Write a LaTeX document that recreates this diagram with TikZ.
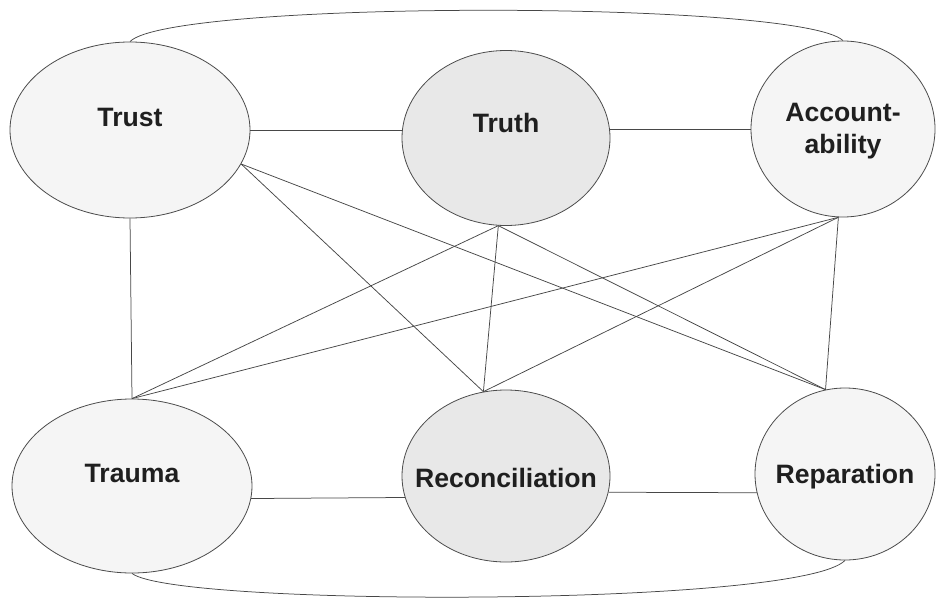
\documentclass[tikz,border=0pt]{standalone}
\usepackage{fontspec}
\setmainfont{Liberation Sans}
\usetikzlibrary{shapes.geometric}
\begin{document}
\begin{tikzpicture}[x=1pt,y=-1pt,
  ell/.style={ellipse, draw=black!70, line width=0.8pt, inner sep=0pt},
  light/.style={fill=black!4},
  dark/.style={fill=black!9},
  lbl/.style={font=\fontsize{26.6}{32}\selectfont\bfseries, text=black!88, align=center, inner sep=0pt},
  conn/.style={draw=black!72, line width=0.75pt}]
\useasboundingbox (0,0) rectangle (936,599);
\node[ell, light, minimum width=240pt, minimum height=176pt, label={[lbl, yshift=13pt]center:Trust}] (trust) at (130,130) {};
\node[ell, dark, minimum width=208pt, minimum height=175pt, label={[lbl, yshift=15pt]center:Truth}] (truth) at (506,138) {};
\node[ell, light, minimum width=184pt, minimum height=176pt, label={[lbl, yshift=-2pt]center:Account-\\ability}] (acc) at (843,129) {};
\node[ell, light, minimum width=240pt, minimum height=174pt, label={[lbl, yshift=13pt]center:Trauma}] (trauma) at (132,486) {};
\node[ell, dark, minimum width=208pt, minimum height=172pt, label={[lbl, yshift=-2pt]center:Reconciliation}] (recon) at (506,476) {};
\node[ell, light, minimum width=180pt, minimum height=172pt, label={[lbl, yshift=-3pt]center:Reparation}] (repar) at (845,474) {};
% horizontal links
\draw[conn] (trust.east) -- (trust.east -| truth.west);
\draw[conn] (acc.west -| truth.east) -- (acc.west);
\draw[conn] (trauma.-6) -- (recon.-168);
\draw[conn] (recon.-9.5) -- (repar.-168);
% vertical links
\draw[conn] (trust.south) -- (trauma.north);
\draw[conn] (truth.-95) -- (recon.105);
\draw[conn] (acc.-93) -- (repar.103);
% diagonals
\draw[conn] (trust.-17) -- (recon.105);
\draw[conn] (trust.-17) -- (repar.103);
\draw[conn] (truth.-95) -- (trauma.north);
\draw[conn] (truth.-95) -- (repar.103);
\draw[conn] (acc.-93) -- (trauma.north);
\draw[conn] (acc.-93) -- (recon.105);
% outer arcs
\draw[conn] (trust.north) .. controls (170,0) and (800,0) .. (acc.north);
\draw[conn] (trauma.south) .. controls (175,607) and (800,607) .. (repar.south);
\end{tikzpicture}
\end{document}
